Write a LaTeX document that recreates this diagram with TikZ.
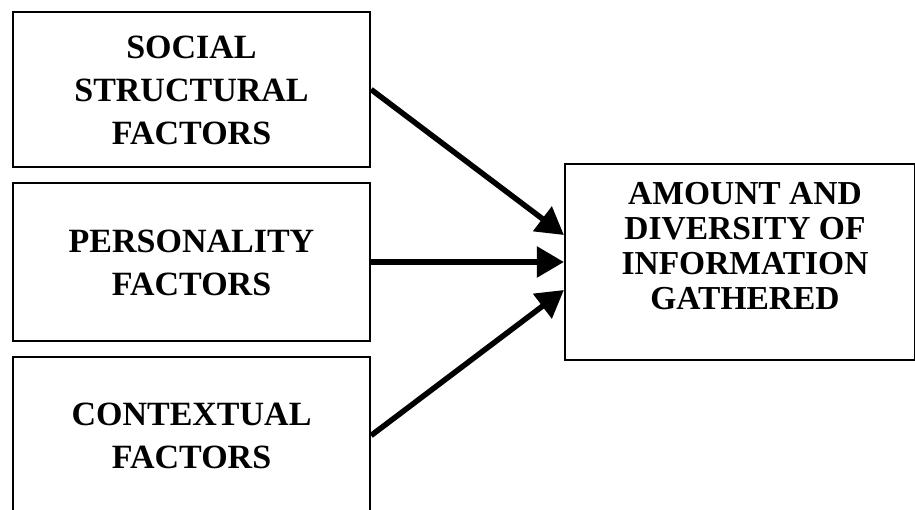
\documentclass[tikz,border=0pt]{standalone}
\usepackage{fontspec}
\setmainfont{Liberation Serif}
\usetikzlibrary{arrows.meta}
\begin{document}
\begin{tikzpicture}[x=1pt,y=-1pt,
  boxnode/.style={draw,line width=2.2pt,rectangle,inner sep=0pt},
  lefttext/.style={align=center,font=\fontsize{34}{43}\selectfont\bfseries,inner sep=0pt},
  righttext/.style={align=center,font=\fontsize{33.5}{35}\selectfont\bfseries,inner sep=0pt},
  flowarrow/.style={line width=5.5pt,-{Triangle[length=27pt,width=30pt]}}]
\useasboundingbox[fill=white] (0,0) rectangle (915,510);
\node[boxnode,minimum width=357pt,minimum height=155pt] (b1) at (191.5,89.5) {};
\node[boxnode,minimum width=357pt,minimum height=158pt] (b2) at (191.5,262) {};
\node[boxnode,minimum width=357pt,minimum height=157pt] (b3) at (191.5,435.5) {};
\node[boxnode,minimum width=350pt,minimum height=196pt] (r) at (740,262) {};
\node[lefttext] (t1) at (191.5,90) {SOCIAL\\STRUCTURAL\\FACTORS};
\node[lefttext] (t2) at (191.5,263) {PERSONALITY\\FACTORS};
\node[lefttext] (t3) at (191.5,436) {CONTEXTUAL\\FACTORS};
\node[righttext] (t4) at (745,246) {AMOUNT AND\\DIVERSITY OF\\INFORMATION\\GATHERED};
\draw[flowarrow] (b1.east) -- ([yshift=27pt]r.west);
\draw[flowarrow] (b2.east) -- (r.west);
\draw[flowarrow] (b3.east) -- ([yshift=-28pt]r.west);
\end{tikzpicture}
\end{document}
